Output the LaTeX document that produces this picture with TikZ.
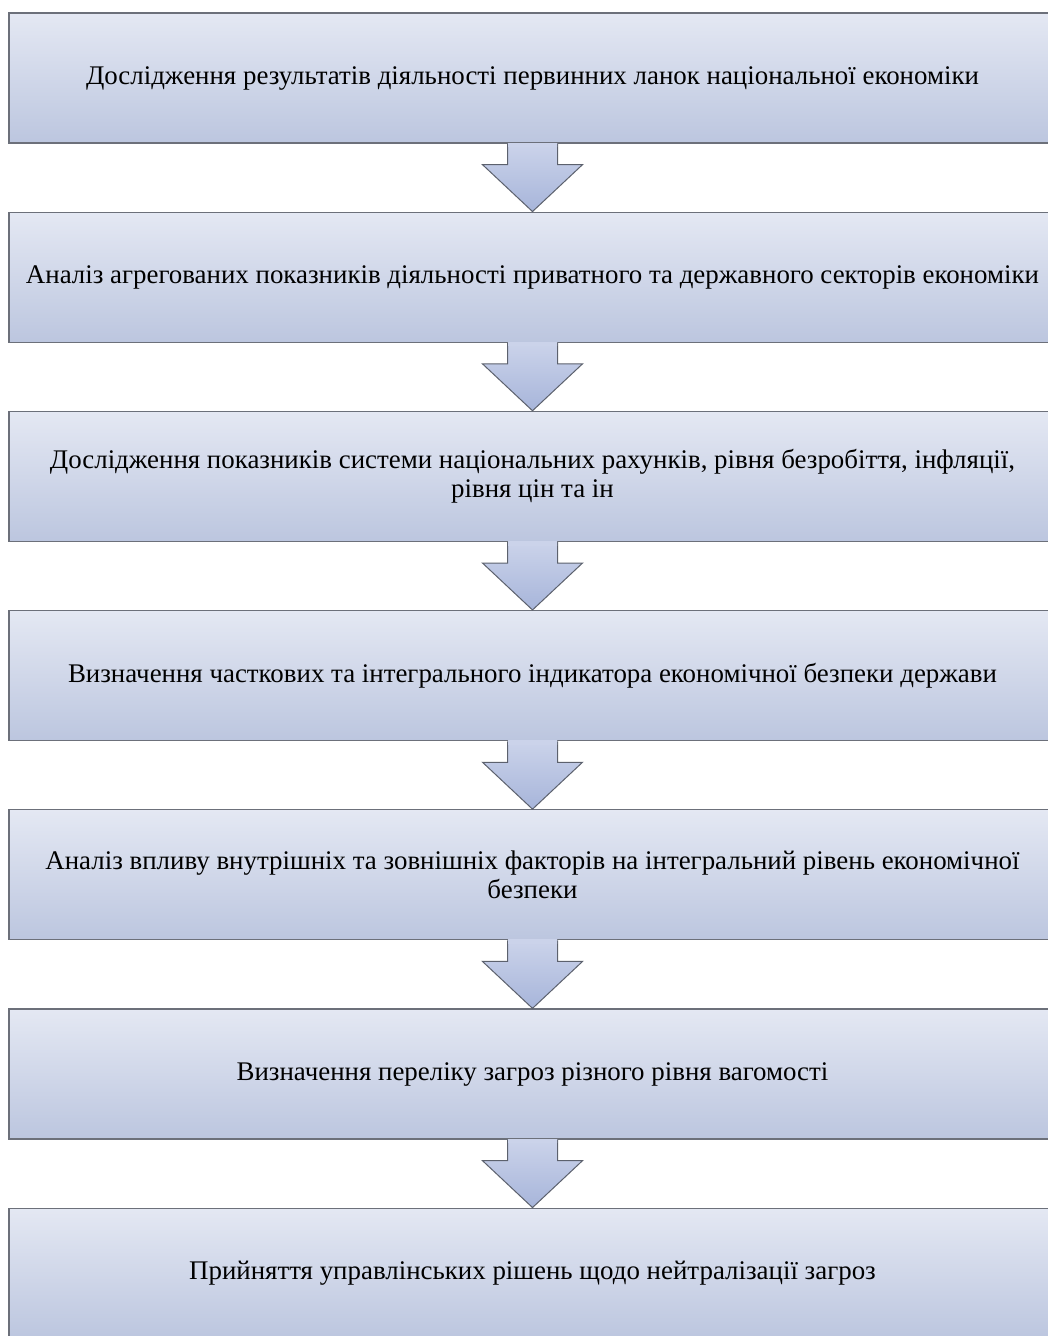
\documentclass[tikz,border=0pt]{standalone}
\usepackage{fontspec}
\setmainfont{Liberation Serif}
\usetikzlibrary{calc}
\definecolor{boxtop}{HTML}{E4E8F3}
\definecolor{boxbot}{HTML}{BCC6DF}
\definecolor{boxline}{HTML}{6C707A}
\definecolor{arrtop}{HTML}{CBD3EA}
\definecolor{arrbot}{HTML}{A7B5DA}
\definecolor{arrline}{HTML}{5C616D}
\tikzset{
  stepbox/.style={draw=boxline, line width=1.3pt, top color=boxtop, bottom color=boxbot,
    minimum width=1047pt, minimum height=130pt, inner sep=0pt,
    font=\fontsize{26.9}{28.5}\selectfont, align=center, text=black},
  downarrow/.style={draw=arrline, line width=1pt, line join=miter, top color=arrtop, bottom color=arrbot}
}
\begin{document}
\begin{tikzpicture}[x=1pt,y=-1pt]
\useasboundingbox (0,0) rectangle (1048,1336);
\fill[white] (0,0) rectangle (1048,1336);
\clip (0,0) rectangle (1048,1336);
% nodes
\path (532.5,78) node[stepbox] (b1) {Дослідження результатів діяльності первинних ланок національної економіки};
\path (532.5,277.2) node[stepbox] (b2) {Аналіз агрегованих показників діяльності приватного та державного секторів економіки};
\path (532.5,476.4) node[stepbox] (b3) {Дослідження показників системи національних рахунків, рівня безробіття, інфляції,\\ рівня цін та ін};
\path (532.5,675.6) node[stepbox] (b4) {Визначення часткових та інтегрального індикатора економічної безпеки держави};
\path (532.5,874.8) node[stepbox] (b5) {Аналіз впливу внутрішніх та зовнішніх факторів на інтегральний рівень економічної\\ безпеки};
\path (532.5,1074) node[stepbox] (b6) {Визначення переліку загроз різного рівня вагомості};
\path (532.5,1273.2) node[stepbox] (b7) {Прийняття управлінських рішень щодо нейтралізації загроз};
% arrows
\foreach \a/\b in {b1/b2,b2/b3,b3/b4,b4/b5,b5/b6,b6/b7}{
  \path[downarrow] ($(\a.south)+(-25,0)$) -- ($(\a.south)+(-25,21)$) -- ($(\a.south)+(-50,21)$)
    -- (\b.north) -- ($(\a.south)+(50,21)$) -- ($(\a.south)+(25,21)$) -- ($(\a.south)+(25,0)$);
  \fill[top color=arrtop, bottom color=arrtop] ($(\a.south)+(-24.5,-0.6)$) rectangle ($(\a.south)+(24.5,3)$);
}
\end{tikzpicture}
\end{document}
